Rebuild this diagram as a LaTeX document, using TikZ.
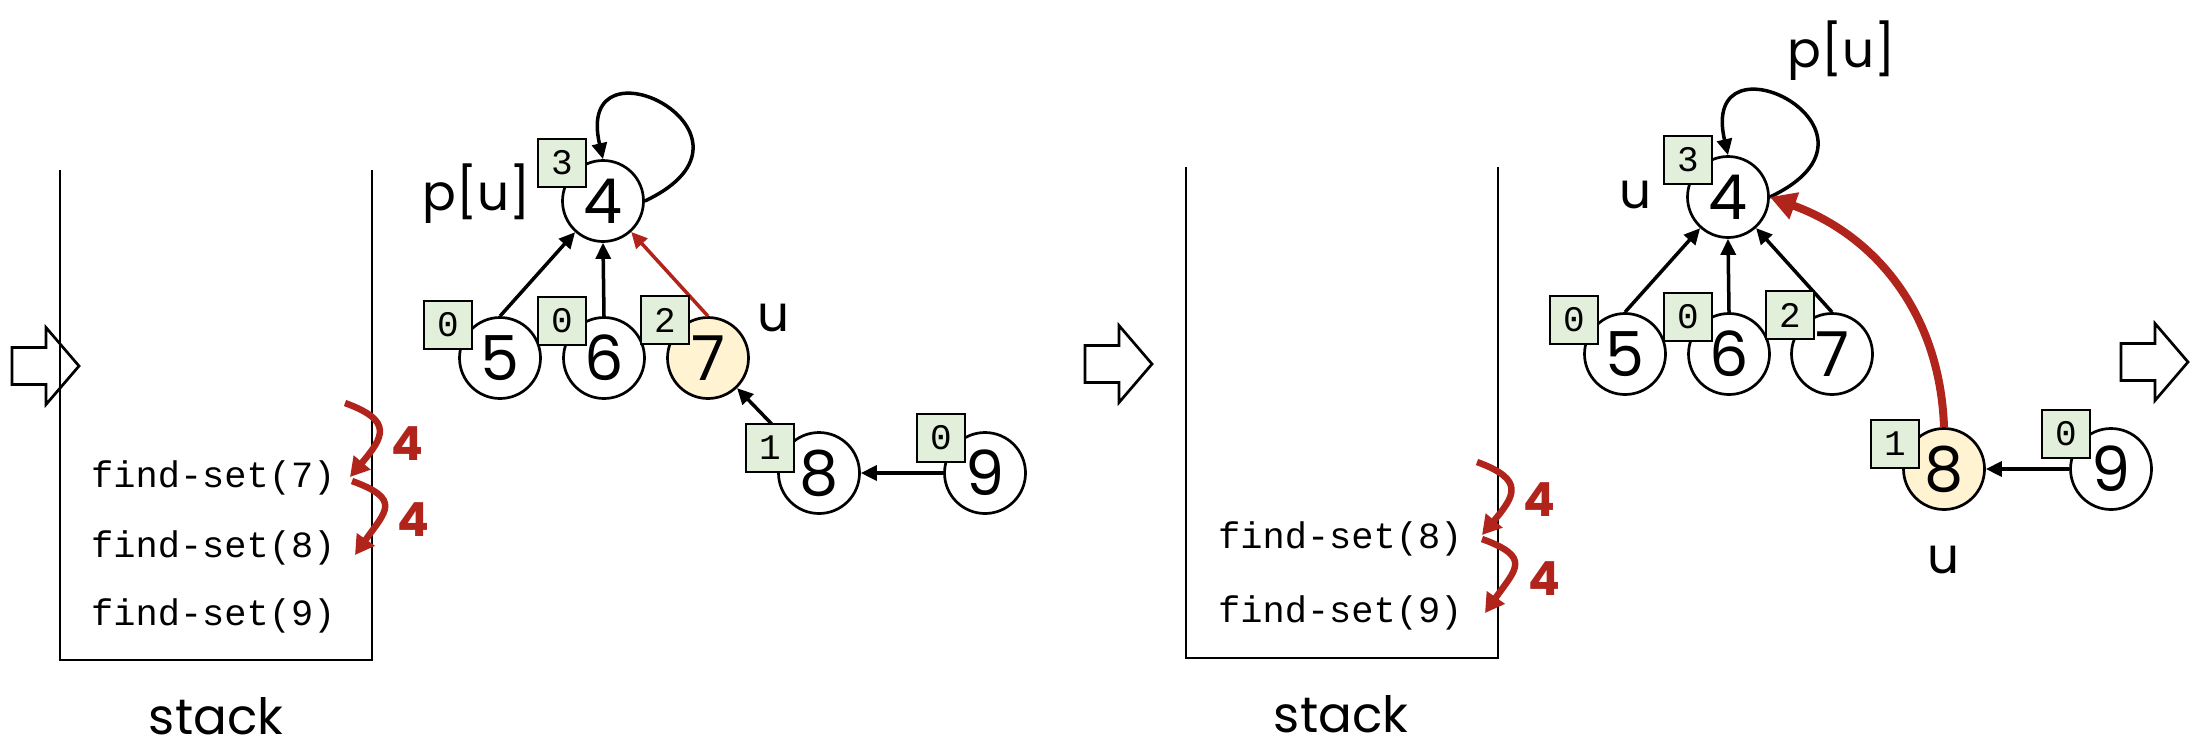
\documentclass[tikz,border=0pt]{standalone}
\usepackage{fontspec}
\usetikzlibrary{arrows.meta}
\newfontfamily\geofont{Poppins}
\newfontfamily\codefont{Liberation Mono}
\definecolor{darkred}{RGB}{176,36,28}
\definecolor{rankfill}{RGB}{226,239,218}
\definecolor{curfill}{RGB}{255,243,209}

\tikzset{
  vtx/.style={circle, draw, line width=2.7pt, fill=white, minimum size=81pt, inner sep=0pt,
    font=\geofont\fontsize{62}{62}\selectfont},
  cur/.style={vtx, fill=curfill},
  rank/.style={rectangle, draw, line width=2.5pt, fill=rankfill, minimum size=48pt, inner sep=0pt,
    font=\codefont\fontsize{36}{36}\selectfont},
  lbl/.style={inner sep=0pt, font=\geofont\fontsize{50}{50}\selectfont},
  call/.style={anchor=base west, inner sep=0pt, font=\codefont\fontsize{37}{37}\selectfont},
  ret/.style={inner sep=0pt, text=darkred, font=\geofont\bfseries\fontsize{47}{47}\selectfont},
  link/.style={line width=3.5pt, -{Triangle[length=16pt,width=15pt]}},
  retarc/.style={line width=6.5pt, darkred, -{Triangle[length=19pt,width=21pt]}},
  bigred/.style={line width=8pt, darkred, -{Triangle[length=26pt,width=27pt]}},
  stackwall/.style={line width=2.7pt},
  blockarrow/.pic={
    \draw[line width=2.7pt, fill=white]
      (0,18.5) -- (34,18.5) -- (34,38.5) -- (67,0) -- (34,-38.5) -- (34,-18.5) -- (0,-18.5) -- cycle;
  }
}

\begin{document}
\begin{tikzpicture}[x=1pt,y=1pt]
\useasboundingbox (0,0) rectangle (2200,-748);

% ---------- step arrows ----------
\pic at (12,-366) {blockarrow};
\pic at (1085,-364) {blockarrow};
\pic at (2121,-362) {blockarrow};

% ================= first state =================
% stack
\draw[stackwall] (60,-170) -- (60,-660) -- (372,-660) -- (372,-170);
\node[lbl] (stA) at (216,-716) {stack};
\node[call] (fs7) at (91,-487) {find-set(7)};
\node[call] (fs8) at (91,-557) {find-set(8)};
\node[call] (fs9) at (91,-625) {find-set(9)};
\coordinate (a0) at (345,-403);
\coordinate (a1) at (350,-477);
\coordinate (a1b) at (352,-481);
\coordinate (a2) at (355,-555);
\draw[retarc] (a0) to[out=-20,in=50,looseness=1.8] (a1);
\draw[retarc] (a1b) to[out=-20,in=55,looseness=1.85] (a2);
\node[ret] (ra1) at (407,-444) {4};
\node[ret] (ra2) at (413,-520) {4};

% tree
\node[vtx] (n4) at (603,-201) {4};
\node[vtx] (n5) at (500,-358) {5};
\node[vtx] (n6) at (604,-358) {6};
\node[cur] (n7) at (708,-358) {7};
\node[vtx] (n8) at (819,-473) {8};
\node[vtx] (n9) at (985,-473) {9};

\draw[link] (n4.east) .. controls +(140,66) and +(-30,130) .. (n4.north);
\draw[link] (n5.north) -- (n4);
\draw[link] (n6.north) -- (n4.south);
\draw[link, darkred] (n7.north) -- (n4);
\draw[link] (n8) -- (n7);
\draw[link] (n9) -- (n8);

\node[rank] (k4) at (562,-163) {3};
\node[rank] (k5) at (448,-325) {0};
\node[rank] (k6) at (562,-321) {0};
\node[rank] (k7) at (665,-320) {2};
\node[rank] (k8) at (770,-448) {1};
\node[rank] (k9) at (941,-438) {0};

\node[lbl] (pA) at (477,-194) {p[u]};
\node[lbl] (uA) at (773,-318) {u};

% ================= second state =================
% stack
\draw[stackwall] (1186,-167) -- (1186,-658) -- (1498,-658) -- (1498,-167);
\node[lbl] (stB) at (1341,-714) {stack};
\node[call] (gs8) at (1218,-548) {find-set(8)};
\node[call] (gs9) at (1218,-622) {find-set(9)};
\coordinate (b0) at (1477,-462);
\coordinate (b1) at (1482,-535);
\coordinate (b1b) at (1482,-539);
\coordinate (b2) at (1485,-613);
\draw[retarc] (b0) to[out=-20,in=50,looseness=1.8] (b1);
\draw[retarc] (b1b) to[out=-20,in=55,looseness=1.85] (b2);
\node[ret] (rb1) at (1539,-500) {4};
\node[ret] (rb2) at (1544,-579) {4};

% tree
\node[vtx] (m4) at (1728,-197) {4};
\node[vtx] (m5) at (1625,-354) {5};
\node[vtx] (m6) at (1729,-354) {6};
\node[vtx] (m7) at (1832,-354) {7};
\node[cur] (m8) at (1944,-469) {8};
\node[vtx] (m9) at (2111,-469) {9};

\draw[link] (m4.east) .. controls +(140,66) and +(-30,130) .. (m4.north);
\draw[link] (m5.north) -- (m4);
\draw[link] (m6.north) -- (m4.south);
\draw[link] (m7.north) -- (m4);
\draw[link] (m9) -- (m8);
\draw[bigred] (m8.north) to[out=92,in=-20] (m4.east);

\node[rank] (j4) at (1688,-160) {3};
\node[rank] (j5) at (1574,-320) {0};
\node[rank] (j6) at (1688,-317) {0};
\node[rank] (j7) at (1790,-315) {2};
\node[rank] (j8) at (1895,-444) {1};
\node[rank] (j9) at (2066,-434) {0};

\node[lbl] (pB) at (1842,-51) {p[u]};
\node[lbl] (uB) at (1635,-195) {u};
\node[lbl] (uC) at (1943,-560) {u};
\end{tikzpicture}
\end{document}
